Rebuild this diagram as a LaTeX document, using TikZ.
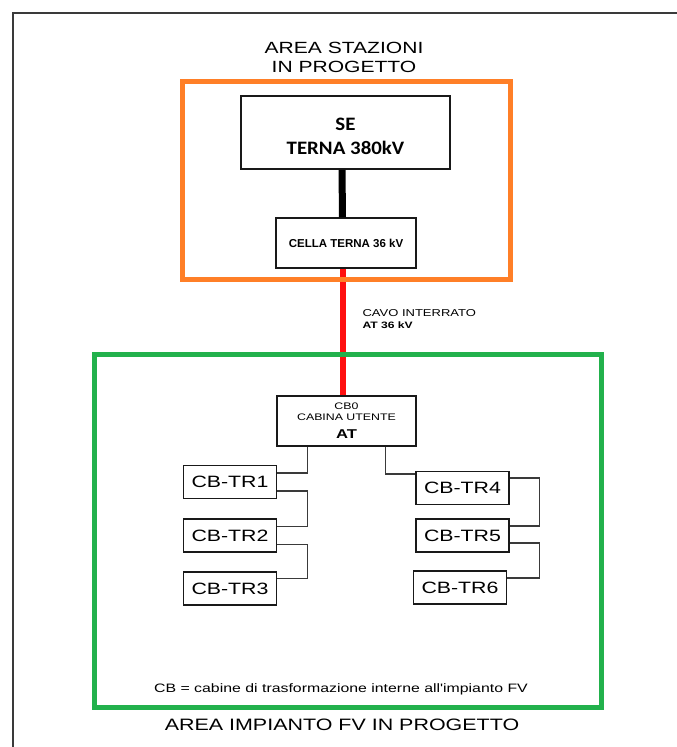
\documentclass[tikz,border=0pt]{standalone}
\usepackage{fontspec}
\setmainfont{Liberation Sans}
\newfontfamily\widesans[FakeStretch=1.3]{Liberation Sans}
\newfontfamily\calibsans[FakeStretch=1.1]{Carlito}
\definecolor{areaorange}{RGB}{255,127,39}
\definecolor{areagreen}{RGB}{34,177,76}
\definecolor{cavored}{RGB}{255,16,16}
\definecolor{framegray}{RGB}{58,58,58}
\begin{document}
\begin{tikzpicture}[x=1pt,y=-1pt,
    box/.style={draw=black!90,line width=1.3pt,inner sep=0pt},
    cbbox/.style={box,minimum width=93,minimum height=33,font=\widesans\fontsize{16.4}{18}\selectfont},
    wire/.style={draw=framegray,line width=1.3pt}]
    \useasboundingbox[fill=white] (0,0) rectangle (677,747);
    \draw[framegray,line width=2pt] (13,747) -- (13,13) -- (677,13);
    % stazioni
    \node[align=center,font=\widesans\fontsize{16.2}{19.5}\selectfont] (titstaz) at (344,57.5) {AREA STAZIONI\\IN PROGETTO};
    \node[box,line width=1.6pt,minimum width=209,minimum height=73,align=center,font=\calibsans\bfseries\fontsize{19}{24}\selectfont] (se) at (345.5,132.5) {\rule{0pt}{20pt}SE\\TERNA 380kV};
    \node[box,minimum width=140,minimum height=50,font=\bfseries\fontsize{11.5}{14}\selectfont] (cella) at (346,243) {CELLA TERNA 36 kV};
    \node[box,minimum width=139,minimum height=50,align=center] (cb0) at (346.5,421) {\widesans\fontsize{9.5}{11}\selectfont CB0\\[-1pt]\widesans\fontsize{9.5}{11}\selectfont CABINA UTENTE\\[6pt]\widesans\bfseries\fontsize{12.8}{15}\selectfont AT};
    \draw[black,line width=7pt] ([xshift=-3.5pt]se.south) -- ([xshift=-3.5pt]cella.north);
    \draw[cavored,line width=6pt] ([xshift=-3pt]cella.south) -- ([xshift=-3.5pt]cb0.north);
    \node[anchor=west,align=left] (cavo) at (359,319) {\widesans\fontsize{10}{16}\selectfont CAVO INTERRATO\\\widesans\bfseries\fontsize{9.3}{16}\selectfont AT 36 kV};
    \draw[areaorange,line width=5pt] (182.5,81.5) rectangle (510.5,279.5);
    \draw[areagreen,line width=5pt] (94,354) rectangle (601,707);
    % cabine di trasformazione
    \node[cbbox] (tr1) at (230,482) {CB-TR1};
    \node[cbbox] (tr2) at (230,535.5) {CB-TR2};
    \node[cbbox] (tr3) at (230,588.5) {CB-TR3};
    \node[cbbox] (tr4) at (462.5,488) {CB-TR4};
    \node[cbbox] (tr5) at (462.5,535.5) {CB-TR5};
    \node[cbbox] (tr6) at (460,587.5) {CB-TR6};
    \draw[wire] ([xshift=-39pt]cb0.south) |- ([yshift=9pt]tr1.east);
    \draw[wire] ([yshift=-9pt]tr1.east) -- ++(30,0) |- ([yshift=9pt]tr2.east);
    \draw[wire] ([yshift=-9pt]tr2.east) -- ++(30,0) |- ([yshift=10pt]tr3.east);
    \draw[wire] ([xshift=39pt]cb0.south) |- ([yshift=14pt]tr4.west);
    \draw[wire] ([yshift=10pt]tr4.east) -- ++(30,0) |- ([yshift=9.5pt]tr5.east);
    \draw[wire] ([yshift=-7.5pt]tr5.east) -- ++(30,0) |- ([yshift=9.5pt]tr6.east);
    \node[font=\widesans\fontsize{12.2}{14}\selectfont] (nota) at (341,689) {CB = cabine di trasformazione interne all'impianto FV};
    \node[font=\widesans\fontsize{16.5}{18}\selectfont] (titfv) at (342,725) {AREA IMPIANTO FV IN PROGETTO};
\end{tikzpicture}
\end{document}
